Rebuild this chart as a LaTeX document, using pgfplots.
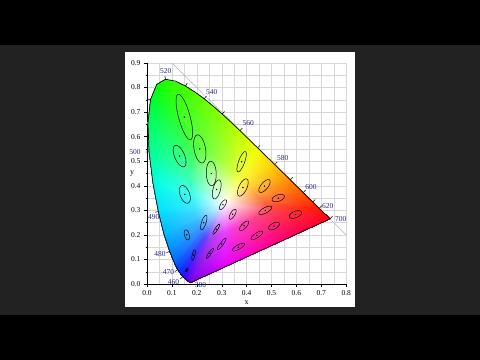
\documentclass[border=0pt]{standalone}
\usepackage{fontspec}
\setmainfont{Liberation Serif}
\usepackage{pgfplots}
\pgfplotsset{compat=1.18}
\definecolor{darkbg}{RGB}{34,34,34}
\definecolor{wlblue}{RGB}{40,40,130}
\definecolor{gridgray}{RGB}{215,215,215}
\begin{document}
\begin{tikzpicture}
\fill[black] (0bp,0bp) rectangle (480bp,360bp);
\fill[darkbg] (0bp,45bp) rectangle (480bp,315bp);
\fill[white] (125bp,53bp) rectangle (355bp,308bp);
\begin{axis}[
  at={(147bp,76bp)}, anchor=south west,
  scale only axis, width=199.2bp, height=221bp,
  xmin=0, xmax=0.8, ymin=0, ymax=0.9,
  xtick={0,0.1,0.2,0.3,0.4,0.5,0.6,0.7,0.8},
  ytick={0,0.1,0.2,0.3,0.4,0.5,0.6,0.7,0.8,0.9},
  minor tick num=1,
  grid=both,
  major grid style={gridgray, line width=0.4bp},
  minor grid style={gridgray, line width=0.4bp},
  axis x line*=bottom, axis y line*=left,
  axis line style={black, line width=0.5bp},
  tick align=outside, major tick length=3bp, minor tick length=1.5bp,
  tick style={black, line width=0.4bp},
  ticklabel style={font=\fontsize{7.5}{9}\selectfont},
  xticklabel style={/pgf/number format/fixed, /pgf/number format/fixed zerofill, /pgf/number format/precision=1},
  yticklabel style={/pgf/number format/fixed, /pgf/number format/fixed zerofill, /pgf/number format/precision=1},
  /pgf/number format/assume math mode=true,
  xlabel={x}, ylabel={y},
  label style={font=\fontsize{8}{9}\selectfont},
  xlabel style={at={(axis description cs:0.5,-0.085)}, anchor=center},
  ylabel style={at={(axis description cs:-0.075,0.5)}, anchor=center, rotate=-90},
  clip=false,
]
% x+y=1 line
\addplot[gray!60, line width=0.5bp] coordinates {(0.1,0.9) (0.8,0.2)};
% colour fill of the gamut
\addplot[patch, patch type=triangle, shader=interp, mesh/color input=explicit,
  point meta=explicit symbolic, table/row sep=\\,
  patch table={
0 1 27\\ 1 28 27\\ 27 28 54\\
1 2 28\\ 2 29 28\\ 28 29 54\\
2 3 29\\ 3 30 29\\ 29 30 54\\
3 4 30\\ 4 31 30\\ 30 31 54\\
4 5 31\\ 5 32 31\\ 31 32 54\\
5 6 32\\ 6 33 32\\ 32 33 54\\
6 7 33\\ 7 34 33\\ 33 34 54\\
7 8 34\\ 8 35 34\\ 34 35 54\\
8 9 35\\ 9 36 35\\ 35 36 54\\
9 10 36\\ 10 37 36\\ 36 37 54\\
10 11 37\\ 11 38 37\\ 37 38 54\\
11 12 38\\ 12 39 38\\ 38 39 54\\
12 13 39\\ 13 40 39\\ 39 40 54\\
13 14 40\\ 14 41 40\\ 40 41 54\\
14 15 41\\ 15 42 41\\ 41 42 54\\
15 16 42\\ 16 43 42\\ 42 43 54\\
16 17 43\\ 17 44 43\\ 43 44 54\\
17 18 44\\ 18 45 44\\ 44 45 54\\
18 19 45\\ 19 46 45\\ 45 46 54\\
19 20 46\\ 20 47 46\\ 46 47 54\\
20 21 47\\ 21 48 47\\ 47 48 54\\
21 22 48\\ 22 49 48\\ 48 49 54\\
22 23 49\\ 23 50 49\\ 49 50 54\\
23 24 50\\ 24 51 50\\ 50 51 54\\
24 25 51\\ 25 52 51\\ 51 52 54\\
25 26 52\\ 26 53 52\\ 52 53 54\\
26 0 53\\ 0 27 53\\ 53 27 54\\
  }]
  table[meta=c]{
x y c\\
0.1741 0.0050 rgb=0.45,0,0.9\\
0.1566 0.0177 rgb=0.3,0,1\\
0.1440 0.0297 rgb=0.15,0.05,1\\
0.1241 0.0578 rgb=0,0.25,1\\
0.1096 0.0868 rgb=0,0.4,1\\
0.0913 0.1327 rgb=0,0.55,1\\
0.0687 0.2007 rgb=0,0.72,1\\
0.0454 0.2950 rgb=0,0.88,1\\
0.0235 0.4127 rgb=0,1,0.9\\
0.0082 0.5384 rgb=0,1,0.6\\
0.0039 0.6548 rgb=0,1,0.4\\
0.0139 0.7502 rgb=0,1,0.2\\
0.0389 0.8120 rgb=0.05,1,0.05\\
0.0743 0.8338 rgb=0.15,1,0\\
0.1547 0.8059 rgb=0.25,1,0\\
0.2296 0.7543 rgb=0.4,1,0\\
0.3016 0.6923 rgb=0.55,1,0\\
0.3731 0.6245 rgb=0.75,1,0\\
0.4441 0.5547 rgb=0.95,1,0\\
0.5125 0.4866 rgb=1,0.8,0\\
0.5752 0.4242 rgb=1,0.55,0\\
0.6270 0.3725 rgb=1,0.35,0\\
0.6915 0.3083 rgb=1,0.1,0\\
0.7347 0.2653 rgb=1,0,0.1\\
0.5946 0.2002 rgb=1,0,0.35\\
0.4544 0.1352 rgb=1,0,0.65\\
0.3143 0.0701 rgb=0.9,0,1\\
0.2503 0.1832 rgb=0.5875,0.25,0.925\\
0.2425 0.1889 rgb=0.475,0.25,1\\
0.2368 0.1943 rgb=0.3625,0.2875,1\\
0.2278 0.2070 rgb=0.25,0.4375,1\\
0.2213 0.2200 rgb=0.25,0.55,1\\
0.2131 0.2407 rgb=0.25,0.6625,1\\
0.2029 0.2713 rgb=0.25,0.79,1\\
0.1924 0.3137 rgb=0.25,0.91,1\\
0.1826 0.3667 rgb=0.25,1,0.925\\
0.1757 0.4232 rgb=0.25,1,0.7\\
0.1738 0.4756 rgb=0.25,1,0.55\\
0.1783 0.5185 rgb=0.25,1,0.4\\
0.1895 0.5464 rgb=0.2875,1,0.2875\\
0.2054 0.5562 rgb=0.3625,1,0.25\\
0.2416 0.5436 rgb=0.4375,1,0.25\\
0.2753 0.5204 rgb=0.55,1,0.25\\
0.3077 0.4925 rgb=0.6625,1,0.25\\
0.3399 0.4620 rgb=0.8125,1,0.25\\
0.3718 0.4306 rgb=0.9625,1,0.25\\
0.4026 0.3999 rgb=1,0.85,0.25\\
0.4308 0.3718 rgb=1,0.6625,0.25\\
0.4541 0.3486 rgb=1,0.5125,0.25\\
0.4832 0.3197 rgb=1,0.325,0.25\\
0.5026 0.3003 rgb=1,0.25,0.325\\
0.4396 0.2710 rgb=1,0.25,0.5125\\
0.3765 0.2418 rgb=1,0.25,0.7375\\
0.3134 0.2125 rgb=0.925,0.25,1\\
0.3127 0.3290 rgb=1,1,1\\
};
% spectral locus outline
\addplot[black, line width=0.7bp] coordinates {
(0.1741,0.0050) (0.1566,0.0177) (0.1440,0.0297) (0.1355,0.0399) (0.1241,0.0578)
(0.1096,0.0868) (0.0913,0.1327) (0.0687,0.2007) (0.0454,0.2950) (0.0235,0.4127)
(0.0082,0.5384) (0.0039,0.6548) (0.0139,0.7502) (0.0389,0.8120) (0.0743,0.8338)
(0.1142,0.8262) (0.1547,0.8059) (0.1929,0.7816) (0.2296,0.7543) (0.2658,0.7243)
(0.3016,0.6923) (0.3373,0.6589) (0.3731,0.6245) (0.4087,0.5896) (0.4441,0.5547)
(0.4788,0.5202) (0.5125,0.4866) (0.5448,0.4544) (0.5752,0.4242) (0.6029,0.3965)
(0.6270,0.3725) (0.6658,0.3340) (0.6915,0.3083) (0.7079,0.2920) (0.7190,0.2809)
(0.7347,0.2653) (0.1741,0.0050)
};
% wavelength ticks on the locus (every 10 nm)
\addplot[black, line width=0.5bp, quiver={u=\thisrow{u}, v=\thisrow{v}}] table{
x y u v
0.1440 0.0297 -0.0110 -0.0090
0.1241 0.0578 -0.0125 -0.0069
0.0913 0.1327 -0.0134 -0.0048
0.0454 0.2950 -0.0139 -0.0029
0.0082 0.5384 -0.0142 -0.0012
0.0139 0.7502 -0.0139 0.0031
0.0743 0.8338 -0.0027 0.0140
0.1547 0.8059 0.0070 0.0124
0.2296 0.7543 0.0088 0.0112
0.3016 0.6923 0.0098 0.0102
0.3731 0.6245 0.0099 0.0102
0.4441 0.5547 0.0100 0.0100
0.5125 0.4866 0.0100 0.0100
0.5752 0.4242 0.0100 0.0100
0.6270 0.3725 0.0100 0.0100
0.6658 0.3340 0.0100 0.0100
0.6915 0.3083 0.0100 0.0100
0.7347 0.2653 0.0100 0.0100
};
% MacAdam ellipses (10x enlarged)
\foreach \cx/\cy/\ea/\eb/\et in {
 0.160/0.057/0.0085/0.0035/62.5,
 0.187/0.118/0.022/0.0055/77,
 0.253/0.125/0.025/0.005/55.5,
 0.150/0.680/0.096/0.023/105,
 0.131/0.521/0.047/0.020/112.5,
 0.212/0.550/0.058/0.023/100,
 0.258/0.450/0.050/0.020/92,
 0.152/0.365/0.038/0.019/110,
 0.280/0.385/0.040/0.015/75.5,
 0.380/0.498/0.044/0.012/70,
 0.160/0.200/0.021/0.0095/104,
 0.228/0.250/0.031/0.009/72,
 0.305/0.323/0.023/0.009/58,
 0.385/0.393/0.038/0.016/65.5,
 0.472/0.399/0.032/0.014/51,
 0.527/0.350/0.026/0.013/20,
 0.475/0.300/0.029/0.011/28.5,
 0.510/0.236/0.024/0.012/29.5,
 0.596/0.283/0.026/0.013/22,
 0.344/0.284/0.023/0.009/60,
 0.390/0.237/0.025/0.010/47,
 0.441/0.198/0.028/0.0095/34.5,
 0.278/0.223/0.024/0.0055/57.5,
 0.300/0.163/0.029/0.006/54,
 0.367/0.150/0.028/0.009/30}{
 \addplot[black, line width=0.5bp, domain=0:360, samples=41, variable=\t]
  ({\cx+\ea*cos(\t)*cos(\et)-\eb*sin(\t)*sin(\et)},
   {\cy+\ea*cos(\t)*sin(\et)+\eb*sin(\t)*cos(\et)});
}
% ellipse centres
\addplot[only marks, mark=*, mark size=0.45bp, black] coordinates {
(0.160,0.057) (0.187,0.118) (0.253,0.125) (0.150,0.680) (0.131,0.521)
(0.212,0.550) (0.258,0.450) (0.152,0.365) (0.280,0.385) (0.380,0.498)
(0.160,0.200) (0.228,0.250) (0.305,0.323) (0.385,0.393) (0.472,0.399)
(0.527,0.350) (0.475,0.300) (0.510,0.236) (0.596,0.283) (0.344,0.284)
(0.390,0.237) (0.441,0.198) (0.278,0.223) (0.300,0.163) (0.367,0.150)
};
% wavelength labels
\addplot[only marks, mark=none, point meta=explicit symbolic, nodes near coords,
  nodes near coords style={anchor=center, text=wlblue, font=\fontsize{7.5}{9}\selectfont}]
  table[meta=l]{
x y l
0.075 0.869 520
0.260 0.783 540
0.407 0.655 560
0.545 0.512 580
0.659 0.396 600
0.726 0.318 620
0.778 0.265 700
-0.048 0.539 500
0.027 0.274 490
0.052 0.121 480
0.086 0.048 470
0.106 0.009 460
0.215 -0.004 380
};
\end{axis}
\pgfresetboundingbox
\path (0bp,0bp) rectangle (480bp,360bp);
\end{tikzpicture}
\end{document}
